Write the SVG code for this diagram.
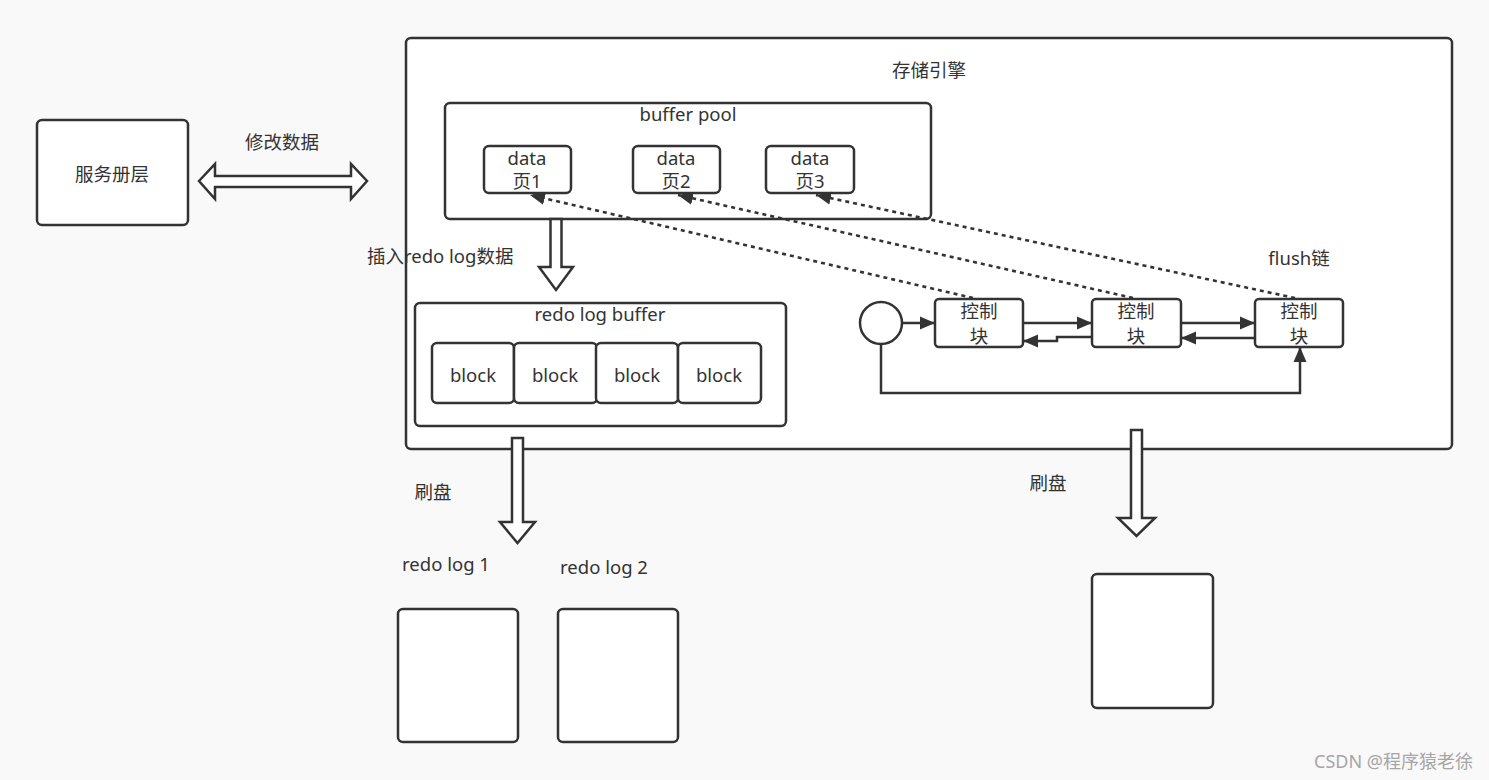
<svg xmlns="http://www.w3.org/2000/svg" width="1489" height="780" viewBox="0 0 1489 780">
<style>
.box{fill:#ffffff;stroke:#333333;stroke-width:2.5}
.t{font-family:"Noto Sans","Noto Sans CJK SC",sans-serif;font-size:18.5px;fill:#333333;text-anchor:middle}
.ts{font-family:"Noto Sans","Noto Sans CJK SC",sans-serif;font-size:18.5px;fill:#333333}
.ln{fill:none;stroke:#333333;stroke-width:2.5}
.dash{fill:none;stroke:#333333;stroke-width:2.6;stroke-dasharray:4 4}
.big{fill:#ffffff;stroke:#333333;stroke-width:2.5;stroke-linejoin:miter}
</style>
<defs>
<marker id="ah" markerWidth="16" markerHeight="14" refX="15" refY="7" orient="auto" markerUnits="userSpaceOnUse">
<path d="M0,0.5 L15,7 L0,13.5 z" fill="#333333"/>
</marker>
</defs>
<rect x="0" y="0" width="1489" height="780" fill="#f9f9f9"/>

<g id="engine">
<rect class="box" x="406" y="38" width="1046" height="411" rx="5"/>
<text class="t" x="929" y="77">存储引擎</text>
</g>

<g id="service">
<rect class="box" x="37" y="120" width="151" height="105" rx="5"/>
<text class="t" x="112" y="181">服务册层</text>
</g>

<g id="bufferpool">
<rect class="box" x="445" y="103" width="486" height="116" rx="5"/>
<text class="t" x="688" y="121">buffer pool</text>
</g>
<g id="data1">
<rect class="box" x="484" y="146" width="87" height="47" rx="5"/>
<text class="t" x="527" y="165">data</text>
<text class="t" x="527" y="188">页1</text>
</g>
<g id="data2">
<rect class="box" x="633" y="146" width="87" height="47" rx="5"/>
<text class="t" x="676" y="165">data</text>
<text class="t" x="676" y="188">页2</text>
</g>
<g id="data3">
<rect class="box" x="766" y="146" width="88" height="47" rx="5"/>
<text class="t" x="810" y="165">data</text>
<text class="t" x="810" y="188">页3</text>
</g>

<g id="redobuffer">
<rect class="box" x="415" y="303" width="371" height="123" rx="5"/>
<text class="t" x="600" y="321">redo log buffer</text>
</g>
<g id="block1">
<rect class="box" x="432" y="343" width="82" height="60" rx="5"/>
<text class="t" x="473" y="382">block</text>
</g>
<g id="block2">
<rect class="box" x="514" y="343" width="83" height="60" rx="5"/>
<text class="t" x="555" y="382">block</text>
</g>
<g id="block3">
<rect class="box" x="596" y="343" width="82" height="60" rx="5"/>
<text class="t" x="637" y="382">block</text>
</g>
<g id="block4">
<rect class="box" x="678" y="343" width="83" height="60" rx="5"/>
<text class="t" x="719" y="382">block</text>
</g>

<g id="head">
<circle class="box" cx="881" cy="323" r="21"/>
</g>
<g id="ctrl1">
<rect class="box" x="935" y="299" width="88" height="48" rx="4"/>
<text class="t" x="979" y="318">控制</text>
<text class="t" x="979" y="343">块</text>
</g>
<g id="ctrl2">
<rect class="box" x="1092" y="299" width="89" height="48" rx="4"/>
<text class="t" x="1136" y="318">控制</text>
<text class="t" x="1136" y="343">块</text>
</g>
<g id="ctrl3">
<rect class="box" x="1255" y="299" width="88" height="48" rx="4"/>
<text class="t" x="1299" y="318">控制</text>
<text class="t" x="1299" y="343">块</text>
</g>
<g id="flushlabel">
<text class="t" x="1299" y="265">flush链</text>
</g>

<g id="redolog1">
<text class="t" x="446" y="571">redo log 1</text>
<rect class="box" x="398" y="609" width="120" height="133" rx="5"/>
</g>
<g id="redolog2">
<text class="t" x="604" y="574">redo log 2</text>
<rect class="box" x="558" y="609" width="120" height="133" rx="5"/>
</g>
<g id="disk">
<rect class="box" x="1092" y="574" width="121" height="134" rx="5"/>
</g>

<g id="connectors">
<polygon class="big" points="199,181 215,164 215,176 351,176 351,164 367,181 351,199 351,187 215,187 215,199"/>
<text class="t" x="282" y="149">修改数据</text>

<polygon class="big" points="550.5,219 561.5,219 561.5,267 573,267 556,290 539,267 550.5,267"/>
<text class="ts" x="367" y="263">插入redo log数据</text>

<polygon class="big" points="512,438 523,438 523,522 535,522 517.5,543 500,522 512,522"/>
<text class="t" x="433" y="499">刷盘</text>

<polygon class="big" points="1131,430 1142,430 1142,518 1155,518 1136.5,536 1118,518 1131,518"/>
<text class="t" x="1048" y="490">刷盘</text>

<line class="dash" x1="973" y1="298" x2="530" y2="195" marker-end="url(#ah)"/>
<line class="dash" x1="1133" y1="298" x2="678" y2="195" marker-end="url(#ah)"/>
<line class="dash" x1="1295" y1="298" x2="816" y2="195" marker-end="url(#ah)"/>

<line class="ln" x1="902" y1="323" x2="935" y2="323" marker-end="url(#ah)"/>
<line class="ln" x1="1023" y1="323" x2="1092" y2="323" marker-end="url(#ah)"/>
<polyline class="ln" points="1092,337 1057,337 1057,341 1023,341" marker-end="url(#ah)"/>
<line class="ln" x1="1181" y1="323" x2="1255" y2="323" marker-end="url(#ah)"/>
<line class="ln" x1="1255" y1="338" x2="1181" y2="338" marker-end="url(#ah)"/>
<path class="ln" d="M881,344 V393 H1300 V347" marker-end="url(#ah)"/>
</g>

<text x="1473" y="768" font-family="'Noto Sans','Noto Sans CJK SC',sans-serif" font-size="18px" fill="#a6a6a6" text-anchor="end">CSDN @程序猿老徐</text>
</svg>
